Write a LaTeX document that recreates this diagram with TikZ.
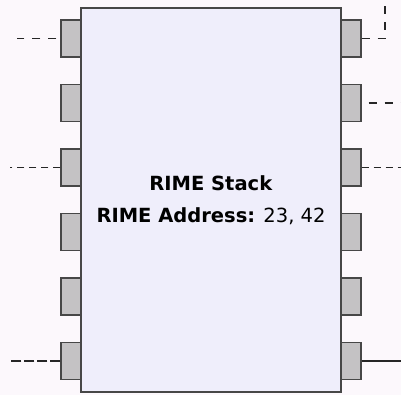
\documentclass[tikz,border=0pt]{standalone}
\usepackage{fontspec}
\setmainfont{DejaVu Sans}
\definecolor{bgc}{HTML}{FCF8FC}
\definecolor{boxc}{HTML}{EFEEFB}
\definecolor{portc}{HTML}{C4C2C4}
\definecolor{edgec}{HTML}{474747}
\begin{document}
\begin{tikzpicture}[x=1pt,y=-1pt,
  mainbox/.style={draw=edgec,line width=1.6pt,fill=boxc,minimum width=260pt,minimum height=384pt,inner sep=0pt},
  port/.style={draw=edgec,line width=1.2pt,fill=portc,minimum width=20pt,minimum height=37pt,inner sep=0pt},
  wire/.style={draw=black!85,line width=1.6pt},
  dwire/.style={wire,dash pattern=on 8pt off 8pt},
  dwireb/.style={wire,dash pattern=on 7pt off 5pt},
  dwirec/.style={wire,dash pattern=on 10pt off 3pt}]
\fill[bgc] (0,0) rectangle (401,395);
\useasboundingbox (0,0) rectangle (401,395);
\node[mainbox] (stack) at (211,200) {};
\foreach \i/\y in {1/38.5,2/103,3/167.5,4/232,5/296.5,6/361}{
  \node[port] (L\i) at (71,\y) {};
  \node[port] (R\i) at (351,\y) {};
}
\node[align=center,font=\fontsize{19.5}{32}\selectfont] (lbl) at (211,200)
  {\textbf{RIME Stack}\\\textbf{RIME Address:} 23, 42};
\coordinate (l1) at (17,38.5);
\coordinate (l3) at (10,167.5);
\coordinate (l6) at (10,361);
\coordinate (r1a) at (385,38.5);
\coordinate (r1b) at (385,0);
\coordinate (r2) at (401,103);
\coordinate (r3) at (401,167.5);
\coordinate (r6) at (401,361);
\draw[dwire,dash phase=12pt] (L1.west) -- (l1);
\draw[dwireb] (L3.west) -- (l3);
\draw[dwirec] (L6.west) -- (l6);
\draw[dwire] (R1.east) -- (r1a) -- (r1b);
\draw[dwire,dash phase=-7pt] (R2.east) -- (r2);
\draw[dwireb] (R3.east) -- (r3);
\draw[wire] (R6.east) -- (r6);
\end{tikzpicture}
\end{document}
